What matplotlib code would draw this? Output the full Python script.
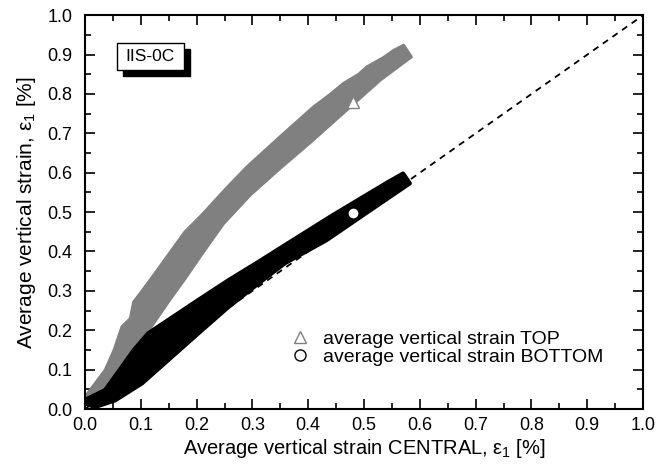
import matplotlib
matplotlib.use('Agg')
import matplotlib.pyplot as plt
from matplotlib.patches import Rectangle
from matplotlib.ticker import MultipleLocator

plt.rcParams['font.family'] = ['Liberation Sans', 'DejaVu Sans']
plt.rcParams['mathtext.fontset'] = 'custom'
plt.rcParams['mathtext.rm'] = 'Liberation Sans'

# Envelope of the TOP strain cloud (upper-left edge, then lower-right edge)
top_upper_central = [0.0, 0.018, 0.036, 0.052, 0.066, 0.081, 0.087, 0.099, 0.125, 0.155,
                     0.179, 0.212, 0.25, 0.29, 0.349, 0.409, 0.44, 0.463, 0.49, 0.505,
                     0.535, 0.553, 0.571]
top_upper_strain = [0.031, 0.065, 0.099, 0.15, 0.209, 0.230, 0.272, 0.294, 0.344, 0.403,
                    0.450, 0.497, 0.556, 0.615, 0.691, 0.767, 0.800, 0.827, 0.850, 0.869,
                    0.893, 0.911, 0.924]
top_lower_central = [0.585, 0.529, 0.469, 0.409, 0.349, 0.296, 0.248, 0.209, 0.179, 0.152,
                     0.119, 0.096, 0.078, 0.054, 0.018, 0.0]
top_lower_strain = [0.894, 0.835, 0.759, 0.683, 0.610, 0.543, 0.470, 0.392, 0.330, 0.277,
                    0.209, 0.158, 0.116, 0.074, 0.031, 0.015]

# Envelope of the BOTTOM strain cloud
bottom_upper_central = [0.0, 0.036, 0.066, 0.087, 0.113, 0.149, 0.203, 0.257, 0.311, 0.358,
                        0.439, 0.5, 0.545, 0.570]
bottom_upper_strain = [0.023, 0.048, 0.107, 0.149, 0.192, 0.226, 0.277, 0.327, 0.374, 0.416,
                       0.488, 0.540, 0.578, 0.598]
bottom_lower_central = [0.582, 0.5, 0.433, 0.358, 0.311, 0.257, 0.203, 0.149, 0.102, 0.054,
                        0.018, 0.0]
bottom_lower_strain = [0.573, 0.494, 0.429, 0.370, 0.319, 0.259, 0.192, 0.124, 0.065, 0.022,
                       0.005, 0.014]

# Last recorded reading
last_central = 0.48
last_top = 0.78
last_bottom = 0.498

grey = '#808080'

fig = plt.figure(figsize=(6.72, 4.73), dpi=100)
ax = fig.add_axes([0.1265, 0.1353, 0.8305, 0.8325])

# 1:1 reference line
ax.plot([0, 1], [0, 1], color='black', ls=(0, (3.5, 3)), lw=1.3, zorder=1)

ax.fill(top_upper_central + top_lower_central, top_upper_strain + top_lower_strain,
        facecolor=grey, edgecolor=grey, lw=2, joinstyle='round', zorder=2)
ax.fill(bottom_upper_central + bottom_lower_central, bottom_upper_strain + bottom_lower_strain,
        facecolor='black', edgecolor='black', lw=3, joinstyle='round', zorder=3)

ax.plot([last_central], [last_top], ls='none', marker='^', ms=8, mfc='white', mec=grey,
        mew=1, zorder=4, label='average vertical strain TOP')
ax.plot([last_central], [last_bottom], ls='none', marker='o', ms=8, mfc='white', mec='black',
        mew=1, zorder=4, label='average vertical strain BOTTOM')

ax.set_xlim(0, 1)
ax.set_ylim(0, 1)
ax.xaxis.set_major_locator(MultipleLocator(0.1))
ax.yaxis.set_major_locator(MultipleLocator(0.1))
ax.xaxis.set_minor_locator(MultipleLocator(0.05))
ax.yaxis.set_minor_locator(MultipleLocator(0.05))
ax.xaxis.set_major_formatter(lambda v, p: f'{v:.1f}')
ax.yaxis.set_major_formatter(lambda v, p: f'{v:.1f}')
ax.tick_params(which='both', direction='in', top=True, right=True, width=1.2)
ax.tick_params(which='major', length=7, labelsize=13)
ax.tick_params(axis='x', which='major', pad=6)
ax.tick_params(axis='y', which='major', pad=9)
ax.tick_params(which='minor', length=4)
for s in ax.spines.values():
    s.set_linewidth(1.5)

ax.set_xlabel('Average vertical strain CENTRAL, ε$_\\mathregular{1}$ [%]', fontsize=14.5, labelpad=2)
ax.set_ylabel('Average vertical strain, ε$_\\mathregular{1}$ [%]', fontsize=15, labelpad=7)

ax.legend(loc='lower left', bbox_to_anchor=(0.34, 0.075), frameon=False, fontsize=14,
          handletextpad=0.6, labelspacing=0.0, markerscale=1.0, handlelength=1.2,
          borderpad=0.2)

# specimen label with drop shadow
ax.add_patch(Rectangle((0.068, 0.845), 0.12, 0.069, transform=ax.transAxes,
                       facecolor='black', edgecolor='black', zorder=5, clip_on=False))
ax.add_patch(Rectangle((0.057, 0.860), 0.12, 0.069, transform=ax.transAxes,
                       facecolor='white', edgecolor='black', lw=1, zorder=6, clip_on=False))
ax.text(0.117, 0.895, 'IIS-0C', transform=ax.transAxes, ha='center', va='center',
        fontsize=12.5, zorder=7)

fig.savefig('out.png', dpi=100)
